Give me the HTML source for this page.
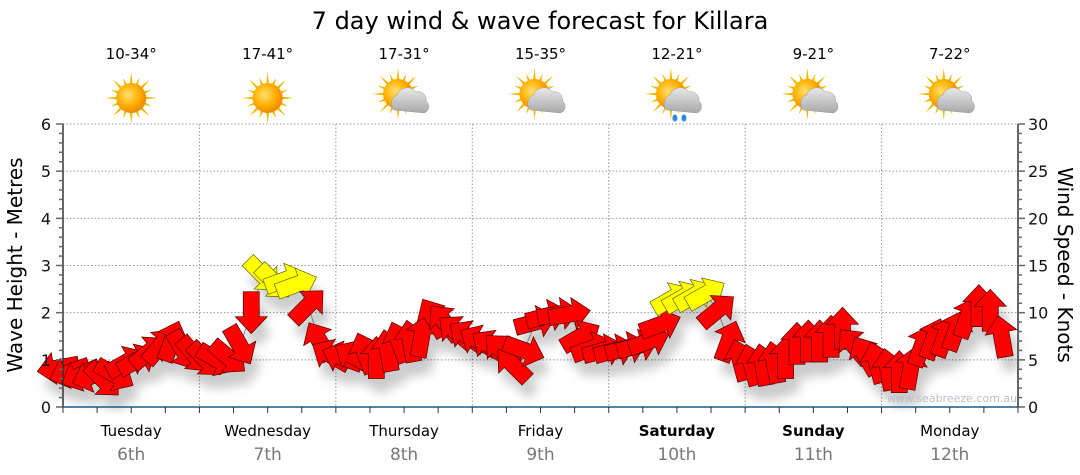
<!DOCTYPE html>
<html><head><meta charset="utf-8">
<style>
html,body{margin:0;padding:0;background:#fff;}
svg{display:block;font-family:"DejaVu Sans","Liberation Sans",sans-serif;}
</style></head>
<body>
<svg id="chart" width="1080" height="475" viewBox="0 0 1080 475">
<defs>
<filter id="shadow" x="-50%" y="-50%" width="200%" height="200%"><feGaussianBlur stdDeviation="5"/></filter>
<radialGradient id="sunG" cx="0.4" cy="0.4" r="0.6"><stop offset="0" stop-color="#ffe070"/><stop offset="0.6" stop-color="#ffb000"/><stop offset="1" stop-color="#f08a00"/></radialGradient>
<linearGradient id="cloudG" x1="0" y1="0" x2="0" y2="1"><stop offset="0" stop-color="#e8e8e8"/><stop offset="1" stop-color="#a8a8a8"/></linearGradient>
</defs>
<text x="540" y="29" text-anchor="middle" font-size="24" fill="#000">7 day wind &amp; wave forecast for Killara</text>
<g id="grid"></g>
<g id="shadows" filter="url(#shadow)" opacity="0.2"></g>
<g id="arrows"></g>
<g id="axes"></g>
<g id="header"></g>
<text x="952" y="402" text-anchor="middle" font-size="11" fill="#b8c0c8">www.seabreeze.com.au</text>
<text transform="translate(22,265) rotate(-90)" text-anchor="middle" font-size="20" fill="#000">Wave Height - Metres</text>
<text transform="translate(1058,265) rotate(90)" text-anchor="middle" font-size="20" fill="#000">Wind Speed - Knots</text>
</svg>
<script>
const days = ["Tuesday","Wednesday","Thursday","Friday","Saturday","Sunday","Monday"];
const dates = ["6th","7th","8th","9th","10th","11th","12th"];
const boldDays = [false,false,false,false,true,true,false];
const temps = ["10-34°","17-41°","17-31°","15-35°","12-21°","9-21°","7-22°"];
const icons = ["sun","sun","cloud","cloud","rain","cloud","cloud"];
const leftTicks = [0,1,2,3,4,5,6];
const rightTicks = [0,5,10,15,20,25,30];
const waveHeight = [0.83,0.74,0.68,0.66,0.57,0.68,0.95,1.0,1.17,1.3,1.4,1.2,
 1.1,1.0,1.0,1.05,1.3,2.0,2.8,2.65,2.7,2.6,2.15,1.4,
 1.1,1.05,1.07,1.15,1.05,1.2,1.38,1.4,1.5,1.9,1.8,1.6,
 1.5,1.4,1.3,1.2,0.9,1.2,1.8,1.93,1.97,1.97,1.5,1.25,
 1.2,1.2,1.25,1.3,1.4,1.75,2.3,2.33,2.37,2.4,2.05,1.4,
 1.0,0.9,0.9,0.95,1.05,1.35,1.4,1.4,1.5,1.67,1.3,1.1,
 0.95,0.8,0.75,0.82,1.3,1.45,1.5,1.63,1.9,2.15,2.05,1.5];
const windDir = [260,250,245,250,135,120,60,60,50,40,20,150,
 140,135,120,130,150,180,135,135,70,70,45,330,
 300,290,300,340,0,350,340,350,10,330,320,310,
 305,300,305,315,315,110,75,75,80,80,60,70,
 75,75,75,75,70,70,60,60,60,60,50,20,
 345,345,350,350,0,0,0,0,0,0,320,330,
 345,350,0,10,20,20,20,20,20,0,0,350];
const windSpeed = [7,7,7,7,8,8,8,8,9,9,9,8,
 8,8,8,8,9,10,16,16,16,15,11,9,
 8,8,8,8,9,9,9,9,10,10,10,10,
 9,9,9,9,9,10,10,10,10,10,10,10,
 9,9,9,9,10,11,15,15,15,15,11,10,
 9,9,9,9,9,10,10,10,10,10,10,9,
 9,9,9,9,10,10,10,10,11,11,11,10];

const svg = document.getElementById('chart');
const NS = 'http://www.w3.org/2000/svg';
const X0 = 63, X1 = 1018, Y0 = 407, YT = 124, DAYW = (X1 - X0) / 7;
function yM(m){ return Y0 - m * (Y0 - YT) / 6; }
function yK(k){ return Y0 - k * (Y0 - YT) / 30; }
function xI(i){ return X0 - 5 + i * DAYW / 12; }
function mk(tag, attrs, parent){ const e = document.createElementNS(NS, tag); for (const k in attrs) e.setAttribute(k, attrs[k]); parent.appendChild(e); return e; }

const grid = document.getElementById('grid');
leftTicks.forEach(function(v){
  if (v > 0) {
    const l = mk('line', {x1:X0, x2:X1, y1:yM(v), y2:yM(v), stroke:'#999', 'stroke-dasharray':'1.5,2', 'stroke-width':1}, grid);
    
    
  }
});
for (let d = 1; d < 7; d++) {
  const l = mk('line', {x1:X0 + d*DAYW, x2:X0 + d*DAYW, y1:YT, y2:Y0, stroke:'#999', 'stroke-dasharray':'1.5,2', 'stroke-width':1}, grid);
  
  
}
const pts = waveHeight.map(function(h, i){ return xI(i) + ',' + yM(h); }).join(' ');
const pl = mk('polyline', {points:pts, fill:'none', stroke:'#999', 'stroke-width':1}, grid);



function arrowPath(){ return 'M0,-21 L16,-4 L8,-4 L8,21 L-8,21 L-8,-4 L-16,-4 Z'; }
const arrows = document.getElementById('arrows');
const shadows = document.getElementById('shadows');
waveHeight.forEach(function(h, i){
  const x = xI(i), y = yM(h);
  mk('path', {d:arrowPath(), transform:'translate(' + (x+6) + ',' + (y+14) + ') rotate(' + windDir[i] + ')', fill:'#000'}, shadows);
  const a = mk('path', {d:arrowPath(), transform:'translate(' + x + ',' + y + ') rotate(' + windDir[i] + ')',
    fill: windSpeed[i] >= 13 ? '#ffff00' : '#ff0000', stroke: windSpeed[i] >= 13 ? '#666600' : '#550000', 'stroke-width':0.7}, arrows);
  
  
});

const axes = document.getElementById('axes');
mk('line', {x1:X0, x2:X0, y1:YT, y2:Y0, stroke:'#333', 'stroke-width':1.5}, axes);
mk('line', {x1:X1, x2:X1, y1:YT, y2:Y0, stroke:'#333', 'stroke-width':1.5}, axes);
const bx = mk('line', {x1:X0, x2:X1, y1:Y0, y2:Y0, stroke:'#1a5a8a', 'stroke-width':1.5}, axes);


for (let m = 0; m <= 30; m++) {
  const y = Y0 - m * (Y0 - YT) / 30;
  mk('line', {x1:X0 - (m % 5 === 0 ? 7 : 4), x2:X0, y1:y, y2:y, stroke:'#666', 'stroke-width':1.5}, axes);
  mk('line', {x1:X1, x2:X1 + (m % 5 === 0 ? 7 : 4), y1:y, y2:y, stroke:'#666', 'stroke-width':1.5}, axes);
}
for (let t = 0; t <= 28; t++) {
  const x = X0 + t * DAYW / 4;
  mk('line', {x1:x, x2:x, y1:Y0, y2:Y0 + 6, stroke:'#333', 'stroke-width':1}, axes);
}
leftTicks.forEach(function(v){
  const t = mk('text', {x:51, y:yM(v) + 6, 'text-anchor':'end', 'font-size':16, fill:'#111'}, axes);
  t.textContent = v;
  
  
});
rightTicks.forEach(function(v){
  const t = mk('text', {x:1028, y:yK(v) + 6, 'text-anchor':'start', 'font-size':16, fill:'#111'}, axes);
  t.textContent = v;
  
  
});

const header = document.getElementById('header');
function drawIcon(kind, cx, cy, g){
  const sx = kind === 'sun' ? cx : cx - 6, sy = kind === 'sun' ? cy : cy - 4;
  for (let r = 0; r < 16; r++) {
    const a = r * Math.PI / 8, L = r % 2 ? 22 : 26;
    mk('polygon', {points:(sx + Math.cos(a-0.12)*13) + ',' + (sy + Math.sin(a-0.12)*13) + ' ' + (sx + Math.cos(a)*L) + ',' + (sy + Math.sin(a)*L) + ' ' + (sx + Math.cos(a+0.12)*13) + ',' + (sy + Math.sin(a+0.12)*13), fill:'#f2b800'}, g);
  }
  mk('circle', {cx:sx, cy:sy, r:15, fill:'url(#sunG)'}, g);
  if (kind !== 'sun') {
    mk('path', {d:'M' + (cx-10) + ',' + (cy+12) + ' a9,9 0 0 1 3,-15 a11,11 0 0 1 19,-3 a8,8 0 0 1 10,9 a7,7 0 0 1 -2,12 Z', fill:'url(#cloudG)', stroke:'#999', 'stroke-width':0.5}, g);
  }
  if (kind === 'rain') {
    mk('ellipse', {cx:cx-2, cy:cy+20, rx:2.5, ry:3.5, fill:'#2a8ae0'}, g);
    mk('ellipse', {cx:cx+7, cy:cy+20, rx:2.5, ry:3.5, fill:'#2a8ae0'}, g);
  }
}
days.forEach(function(d, i){
  const cx = X0 + (i + 0.5) * DAYW;
  const t1 = mk('text', {x:cx, y:436, 'text-anchor':'middle', 'font-size':15, fill:'#000', 'font-weight': boldDays[i] ? 'bold' : 'normal'}, header);
  t1.textContent = d;
  
  
  const t2 = mk('text', {x:cx, y:460, 'text-anchor':'middle', 'font-size':17, fill:'#777'}, header);
  t2.textContent = dates[i];
  
  
  const t3 = mk('text', {x:cx, y:59, 'text-anchor':'middle', 'font-size':15, fill:'#000'}, header);
  t3.textContent = temps[i];
  
  
  const g = mk('g', {}, header);
  
  
  drawIcon(icons[i], cx, 98, g);
});
</script>
</body></html>
